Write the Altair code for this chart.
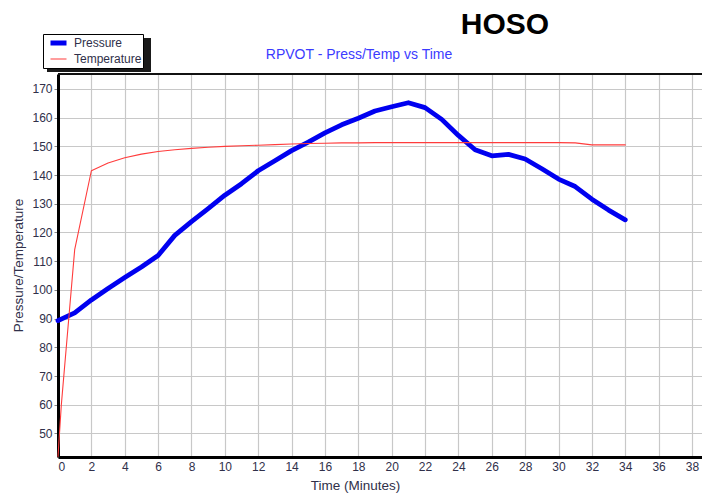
import altair as alt
import pandas as pd

# ---------------- data ----------------
pressure_minutes = list(range(0, 35))
pressure_values = [89.3, 92.0, 96.5, 100.5, 104.3, 108.0, 112.0, 119.0, 123.8, 128.3,
                   133.0, 137.0, 141.5, 145.0, 148.5, 151.5, 154.7, 157.5, 159.8, 162.3,
                   163.8, 165.2, 163.5, 159.4, 153.8, 148.8, 146.7, 147.2, 145.6, 142.2,
                   138.6, 136.0, 131.6, 127.8, 124.4]

temperature_minutes = [0, 0.2] + list(range(1, 35))
temperature_values = [42.0, 60.0, 114.0, 141.5, 144.2, 146.0, 147.3, 148.2, 148.8, 149.3,
                      149.7, 150.0, 150.2, 150.4, 150.6, 150.8, 151.0, 151.1, 151.2, 151.2,
                      151.3, 151.3, 151.3, 151.3, 151.3, 151.3, 151.3, 151.3, 151.3, 151.3,
                      151.3, 151.3, 151.2, 150.5, 150.5, 150.5]

x_ticks = list(range(0, 39, 2))
y_ticks = list(range(50, 171, 10))
series_names = ["Pressure", "Temperature"]
series_colors = ["#0000f0", "#ff3c3c"]
series_widths = [4.8, 1.1]

chart_title = "RPVOT - Press/Temp vs Time"
corner_label = "HOSO"
x_title = "Time (Minutes)"
y_title = "Pressure/Temperature"

rows = [{"minute": m, "value": v, "series": "Pressure"}
        for m, v in zip(pressure_minutes, pressure_values)]
rows += [{"minute": m, "value": v, "series": "Temperature"}
         for m, v in zip(temperature_minutes, temperature_values)]
df = pd.DataFrame(rows)

W, H = 644, 383
FONT = "Liberation Sans, Arial, sans-serif"
LABEL_COLOR = "#30304a"

legend_spec = dict(
    orient="none", legendX=-15, legendY=-40, title=None,
    strokeColor="black", fillColor="white", padding=1,
    symbolType="stroke", symbolSize=256, rowPadding=0, clipHeight=16,
    labelFont=FONT, labelFontSize=12, labelColor=LABEL_COLOR, labelOffset=5,
    symbolOffset=4,
)

lines = alt.Chart(df).mark_line(strokeJoin="round", strokeCap="round").encode(
    x=alt.X("minute:Q",
            scale=alt.Scale(domain=[0, 38.6], nice=False, zero=False),
            axis=alt.Axis(values=x_ticks, title=x_title, ticks=False, labelPadding=4,
                          titleX=297, titleY=28, titleBaseline="middle", titleAlign="center")),
    y=alt.Y("value:Q",
            scale=alt.Scale(domain=[41.8, 175.2], nice=False, zero=False),
            axis=alt.Axis(values=y_ticks, title=y_title, tickSize=4, tickColor="#888888",
                          labelPadding=2, titleX=-40, titleY=191, titleAngle=270,
                          titleBaseline="middle", titleAlign="center")),
    color=alt.Color("series:N", scale=alt.Scale(domain=series_names, range=series_colors),
                    legend=alt.Legend(**legend_spec)),
    strokeWidth=alt.StrokeWidth("series:N",
                                scale=alt.Scale(domain=series_names, range=series_widths),
                                legend=alt.Legend(**legend_spec)),
)

deco = alt.Chart(pd.DataFrame({"k": [0]}))

legend_shadow = deco.mark_rect(color="#1a1a1a").encode(
    x=alt.value(-11), x2=alt.value(93), y=alt.value(-36), y2=alt.value(-2))

top_border = deco.mark_rule(color="#111111", strokeWidth=2).encode(
    x=alt.value(0), x2=alt.value(W), y=alt.value(0))

title_text = alt.Chart(pd.DataFrame({"t": [chart_title]})).mark_text(
    font=FONT, fontSize=14, color="#3b3bff", align="center", baseline="middle"
).encode(x=alt.value(301), y=alt.value(-19), text="t:N")

corner_text = alt.Chart(pd.DataFrame({"t": [corner_label]})).mark_text(
    font=FONT, fontSize=30, fontWeight="bold", color="black", align="center", baseline="middle"
).encode(x=alt.value(447), y=alt.value(-49), text="t:N")

chart = alt.layer(legend_shadow, top_border, lines, title_text, corner_text).properties(
    width=W, height=H,
    autosize=alt.AutoSizeParams(type="none"),
    padding={"left": 58, "top": 74, "right": 0, "bottom": 39},
).configure_view(stroke=None).configure_axis(
    gridColor="#c8c8c8", gridWidth=1.2,
    domainColor="black", domainWidth=3,
    labelFont=FONT, labelFontSize=12, labelColor=LABEL_COLOR,
    titleFont=FONT, titleFontSize=13.5, titleColor=LABEL_COLOR, titleFontWeight="normal",
)

chart.save("out.html", embed_options={"renderer": "svg", "actions": False})
